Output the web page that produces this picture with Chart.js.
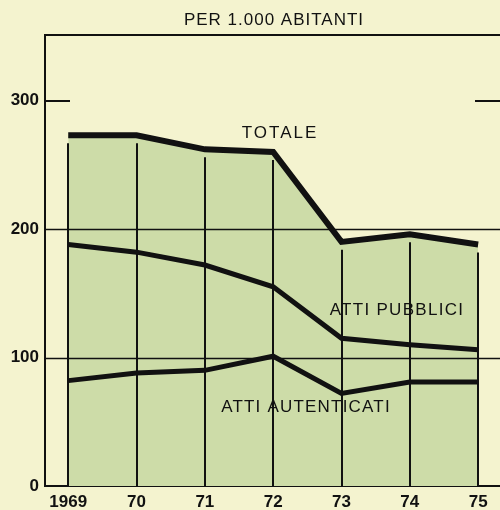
<!DOCTYPE html>
<html>
<head>
<meta charset="utf-8">
<script src="https://cdn.jsdelivr.net/npm/chart.js@4/dist/chart.umd.min.js"></script>
<style>
  html, body { margin: 0; padding: 0; background: #f4f3cf; }
  #wrap { width: 500px; height: 510px; }
</style>
</head>
<body>
<div id="wrap"><canvas id="chart" width="500" height="510"></canvas></div>
<script>
// Dati (per 1.000 abitanti)
const anni = [1969, 1970, 1971, 1972, 1973, 1974, 1975];
const etichetteAnni = ['1969', '70', '71', '72', '73', '74', '75'];
const totale = [273, 273, 262, 260, 190, 196, 188];
const attiPubblici = [188, 182, 172, 155, 115, 110, 106];
const attiAutenticati = [82, 88, 90, 101, 72, 81, 81];
const tickY = [0, 100, 200, 300];

const nero = '#111111';
const verde = '#cddca8';
const font = '"Liberation Sans", Arial, sans-serif';

function punti(valori) {
    return anni.map((a, i) => ({ x: a, y: valori[i] }));
}

// Linee di griglia, linee verticali e scritte
const decorazioni = {
    id: 'decorazioni',
    beforeDatasetsDraw(chart) {
        const ctx = chart.ctx;
        const x = chart.scales.x;
        const y = chart.scales.y;
        const area = chart.chartArea;
        ctx.save();
        ctx.strokeStyle = nero;
        // linee verticali dagli anni fino al totale
        ctx.lineWidth = 2;
        anni.forEach((a, i) => {
            const px = Math.round(x.getPixelForValue(a));
            ctx.beginPath();
            ctx.moveTo(px, y.getPixelForValue(0));
            ctx.lineTo(px, y.getPixelForValue(totale[i]) + 8);
            ctx.stroke();
        });
        // griglia orizzontale a 100 e 200
        ctx.lineWidth = 1.5;
        [100, 200].forEach(v => {
            const py = Math.round(y.getPixelForValue(v)) + 0.5;
            ctx.beginPath();
            ctx.moveTo(area.left, py);
            ctx.lineTo(area.right, py);
            ctx.stroke();
        });
        // tacche a 300
        ctx.lineWidth = 2;
        const p300 = Math.round(y.getPixelForValue(300));
        ctx.beginPath();
        ctx.moveTo(area.left, p300);
        ctx.lineTo(area.left + 25, p300);
        ctx.moveTo(area.right - 25, p300);
        ctx.lineTo(area.right, p300);
        ctx.stroke();
        // bordo superiore
        ctx.beginPath();
        ctx.moveTo(area.left, area.top);
        ctx.lineTo(area.right, area.top);
        ctx.stroke();
        ctx.restore();
    },
    afterDraw(chart) {
        const ctx = chart.ctx;
        ctx.save();
        ctx.fillStyle = nero;
        ctx.textAlign = 'center';
        ctx.textBaseline = 'middle';
        ctx.font = '17px ' + font;
        ctx.letterSpacing = '1px';
        ctx.fillText('PER 1.000 ABITANTI', 274, 20);
        ctx.letterSpacing = '2px';
        ctx.fillText('TOTALE', 280, 133);
        ctx.letterSpacing = '1.3px';
        ctx.fillText('ATTI PUBBLICI', 397, 310);
        ctx.letterSpacing = '1.2px';
        ctx.fillText('ATTI AUTENTICATI', 306, 407);
        ctx.restore();
    }
};

new Chart(document.getElementById('chart').getContext('2d'), {
    type: 'line',
    data: {
        datasets: [
            {
                label: 'Totale',
                data: punti(totale),
                borderColor: nero,
                borderWidth: 6,
                backgroundColor: verde,
                fill: 'origin',
                pointRadius: 0,
                tension: 0
            },
            {
                label: 'Atti pubblici',
                data: punti(attiPubblici),
                borderColor: nero,
                borderWidth: 5,
                fill: false,
                pointRadius: 0,
                tension: 0
            },
            {
                label: 'Atti autenticati',
                data: punti(attiAutenticati),
                borderColor: nero,
                borderWidth: 5,
                fill: false,
                pointRadius: 0,
                tension: 0
            }
        ]
    },
    options: {
        responsive: false,
        animation: false,
        layout: { padding: { top: 35, right: 0, left: 0, bottom: 0 } },
        plugins: {
            legend: { display: false },
            tooltip: { enabled: false },
            filler: { drawTime: 'beforeDatasetsDraw' }
        },
        scales: {
            x: {
                type: 'linear',
                min: 1968.66,
                max: 1975.32,
                afterBuildTicks: s => { s.ticks = anni.map(a => ({ value: a })); },
                afterFit: s => { s.height = 24; },
                grid: { display: false, drawTicks: false },
                border: { display: true, color: nero, width: 2 },
                ticks: {
                    padding: 6,
                    color: nero,
                    autoSkip: false,
                    maxRotation: 0,
                    font: { family: font, size: 17, weight: 'bold' },
                    callback: v => etichetteAnni[anni.indexOf(v)]
                }
            },
            y: {
                min: 0,
                max: 351,
                afterBuildTicks: s => { s.ticks = tickY.map(v => ({ value: v })); },
                afterFit: s => { s.width = 45; },
                grid: { display: false, drawTicks: false },
                border: { display: true, color: nero, width: 2 },
                ticks: {
                    padding: 6,
                    color: nero,
                    font: { family: font, size: 17, weight: 'bold' }
                }
            }
        }
    },
    plugins: [decorazioni]
});
</script>
</body>
</html>
